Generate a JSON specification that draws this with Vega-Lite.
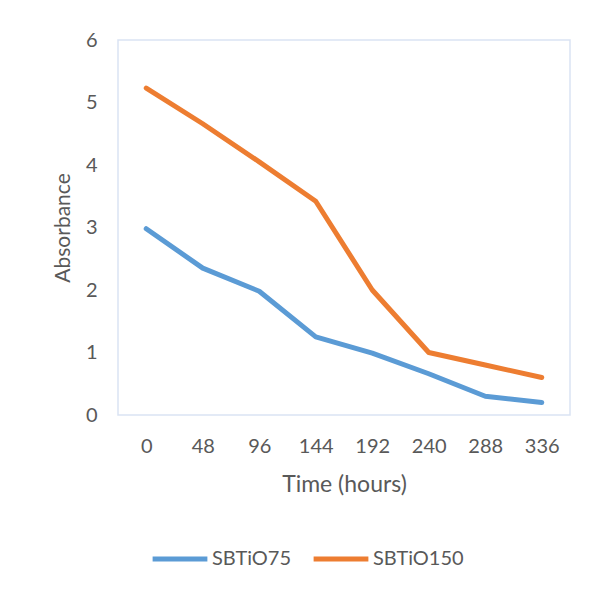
{
  "$schema": "https://vega.github.io/schema/vega-lite/v6.json",
  "autosize": "none",
  "width": 452,
  "height": 375,
  "padding": {"left": 118, "top": 40, "right": 27, "bottom": 177},
  "background": "white",
  "config": {
    "view": {"stroke": "#dae3f3", "strokeWidth": 1.5},
    "font": "Lato",
    "axis": {"labelColor": "#595959", "titleColor": "#595959", "labelFont": "Lato", "titleFont": "Lato", "titleFontWeight": "normal", "grid": false, "domain": false, "ticks": false}
  },
  "data": {
    "values": [
      {"time": 0, "series": "SBTiO75", "absorbance": 2.98},
      {"time": 48, "series": "SBTiO75", "absorbance": 2.35},
      {"time": 96, "series": "SBTiO75", "absorbance": 1.98},
      {"time": 144, "series": "SBTiO75", "absorbance": 1.25},
      {"time": 192, "series": "SBTiO75", "absorbance": 0.99},
      {"time": 240, "series": "SBTiO75", "absorbance": 0.66},
      {"time": 288, "series": "SBTiO75", "absorbance": 0.3},
      {"time": 336, "series": "SBTiO75", "absorbance": 0.2},
      {"time": 0, "series": "SBTiO150", "absorbance": 5.23},
      {"time": 48, "series": "SBTiO150", "absorbance": 4.66},
      {"time": 96, "series": "SBTiO150", "absorbance": 4.05},
      {"time": 144, "series": "SBTiO150", "absorbance": 3.42},
      {"time": 192, "series": "SBTiO150", "absorbance": 2.0},
      {"time": 240, "series": "SBTiO150", "absorbance": 1.0},
      {"time": 288, "series": "SBTiO150", "absorbance": 0.8},
      {"time": 336, "series": "SBTiO150", "absorbance": 0.6}
    ]
  },
  "mark": {"type": "line", "strokeWidth": 5, "strokeCap": "round", "strokeJoin": "round"},
  "encoding": {
    "x": {
      "field": "time", "type": "ordinal", "sort": "ascending",
      "scale": {"paddingInner": 0, "paddingOuter": 0},
      "axis": {"title": "Time (hours)", "labelAngle": 0, "labelFontSize": 20, "labelPadding": 21, "titleFontSize": 23, "titlePadding": 17}
    },
    "y": {
      "field": "absorbance", "type": "quantitative",
      "scale": {"domain": [0, 6]},
      "axis": {"title": "Absorbance", "values": [0, 1, 2, 3, 4, 5, 6], "labelFontSize": 20, "labelPadding": 21, "titleFontSize": 21, "titlePadding": 12}
    },
    "color": {
      "field": "series", "type": "nominal",
      "scale": {"domain": ["SBTiO75", "SBTiO150"], "range": ["#5b9bd5", "#ed7d31"]},
      "legend": {
        "title": null, "orient": "none", "direction": "horizontal",
        "legendX": 32, "legendY": 489,
        "symbolType": "stroke", "symbolSize": 3000, "symbolStrokeWidth": 5,
        "labelFontSize": 20, "labelColor": "#595959", "labelFont": "Lato",
        "columnPadding": 11, "labelOffset": 2
      }
    }
  }
}
